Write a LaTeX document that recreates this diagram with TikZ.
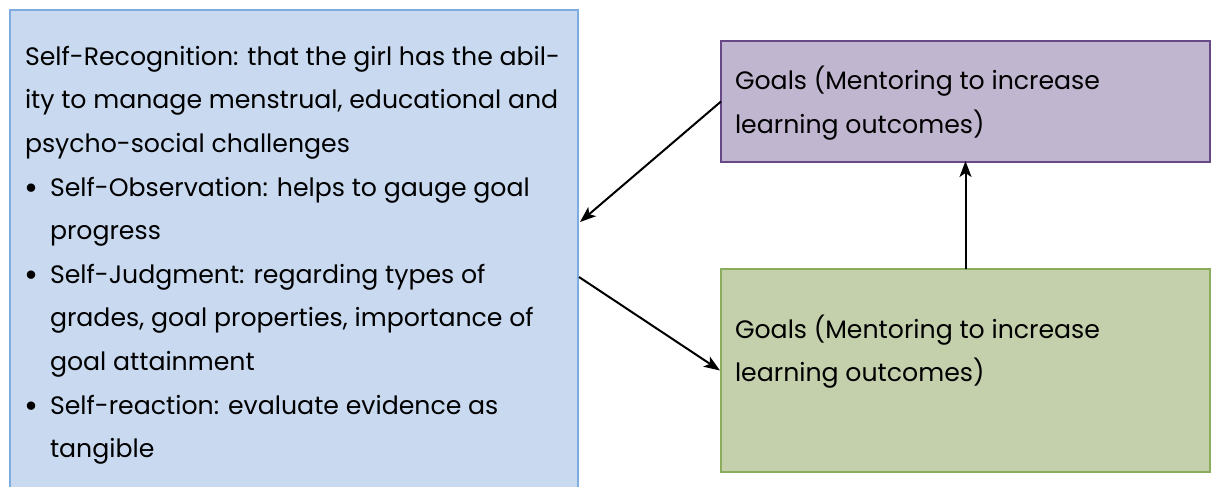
\documentclass[tikz,border=0pt]{standalone}
\usepackage{fontspec}
\setmainfont{Poppins}
\usetikzlibrary{arrows.meta}
\definecolor{selffill}{RGB}{200,217,240}
\definecolor{selfline}{RGB}{125,172,225}
\definecolor{goalfill}{RGB}{192,182,208}
\definecolor{goalline}{RGB}{104,72,134}
\definecolor{planfill}{RGB}{196,208,172}
\definecolor{planline}{RGB}{138,172,92}
\begin{document}
\begin{tikzpicture}[x=1pt,y=-1pt,
  box/.style={draw, line width=1.3pt, inner sep=0pt, outer sep=0pt, anchor=north west},
  txt/.style={anchor=base west, align=left, inner sep=0pt, outer sep=0pt,
    font=\fontsize{25.2}{43.7}\selectfont, text=black},
  dot/.style={anchor=base west, inner sep=0pt, outer sep=0pt,
    font=\fontsize{34}{34}\selectfont, text=black},
  link/.style={-{Stealth[length=16pt,width=12pt,inset=4pt]}, line width=2pt}]
\useasboundingbox (0,0) rectangle (1211,487);
\clip (0,0) rectangle (1211,487);

% boxes
\node[box, fill=selffill, draw=selfline, minimum width=568pt, minimum height=520pt] (self) at (10,10) {};
\node[box, fill=goalfill, draw=goalline, line width=2pt, minimum width=489pt, minimum height=121pt] (goal) at (721,41) {};
\node[box, fill=planfill, draw=planline, line width=1.8pt, minimum width=489pt, minimum height=203pt] (plan) at (721,269) {};

% left box text (each node sits on the baseline of its last line)
\node[txt] (recog) at (25,152.4) {Self-Recognition: that the girl has the abil-\\ity to manage menstrual, educational and\\psycho-social challenges};
\node[dot] (dot1) at (24,199) {•};
\node[txt] (obs) at (50,239.7) {Self-Observation: helps to gauge goal\\progress};
\node[dot] (dot2) at (24,286) {•};
\node[txt] (judg) at (50,370.4) {Self-Judgment: regarding types of\\grades, goal properties, importance of\\goal attainment};
\node[dot] (dot3) at (24,417) {•};
\node[txt] (react) at (50,457.7) {Self-reaction: evaluate evidence as\\tangible};

% right box texts
\node[txt] (goaltext) at (735,133.5) {Goals (Mentoring to increase\\learning outcomes)};
\node[txt] (plantext) at (735,381.7) {Goals (Mentoring to increase\\learning outcomes)};

% connectors
\path (self.north east) ++(2,212) coordinate (selfin);
\path (self.north east) ++(1,267) coordinate (selfout);
\draw[link] (goal.west) -- (selfin);
\draw[link] (selfout) -- ([xshift=-1pt]plan.west);
\draw[link] (plan.north) -- ([yshift=1pt]goal.south);
\end{tikzpicture}
\end{document}
